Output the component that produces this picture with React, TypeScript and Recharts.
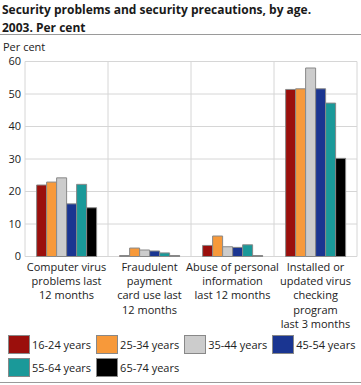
import React from 'react';
import { BarChart, Bar, XAxis, YAxis, CartesianGrid } from 'recharts';

const categories = [
  'Computer virus|problems last|12 months',
  'Fraudulent|payment|card use last|12 months',
  'Abuse of personal|information|last 12 months',
  'Installed or|updated virus|checking|program|last 3 months',
];
const ageGroups = ['16-24 years', '25-34 years', '35-44 years', '45-54 years', '55-64 years', '65-74 years'];
const s1624 = [22.0, 0, 3.4, 51.4];
const s2534 = [22.9, 2.6, 6.3, 51.6];
const s3544 = [24.2, 2.0, 3.0, 58.0];
const s4554 = [16.2, 1.7, 2.8, 51.6];
const s5564 = [22.2, 1.1, 3.6, 47.2];
const s6574 = [15.0, 0, 0, 30.2];
const seriesValues = [s1624, s2534, s3544, s4554, s5564, s6574];
const colors = ['#9b0f0c', '#f7993a', '#cccccc', '#1a3591', '#1a9999', '#000000'];
const yTicks = [0, 10, 20, 30, 40, 50, 60];

const keys = ageGroups.map((_, i) => 's' + i);
const data = categories.map((c, ci) => {
  const row: Record<string, any> = { category: c };
  seriesValues.forEach((s, si) => {
    row[keys[si]] = s[ci];
  });
  return row;
});

const FONT = '"Open Sans", sans-serif';

const XTick = (props: any) => {
  const { x, y, payload } = props;
  const lines = String(payload.value).split('|');
  return (
    <text x={x} y={y} textAnchor="middle" fontSize={11} fill="#222" fontFamily={FONT}>
      {lines.map((l, i) => (
        <tspan key={i} x={x} dy={i === 0 ? 14.5 : 14.2}>
          {l}
        </tspan>
      ))}
    </text>
  );
};

const LegendItem = ({ label, color }: { label: string; color: string }) => (
  <div style={{ display: 'flex', alignItems: 'center', marginRight: 5 }}>
    <div
      style={{
        width: 20,
        height: 17,
        background: color,
        border: '1px solid #888',
      }}
    />
    <span style={{ marginLeft: 2, fontSize: 11, color: '#222', lineHeight: '19px' }}>{label}</span>
  </div>
);

export default function App() {
  return (
    <div
      style={{
        position: 'absolute',
        left: 0,
        top: 0,
        width: 361,
        height: 385,
        fontFamily: FONT,
        background: '#fff',
        overflow: 'hidden',
      }}
    >
      <div
        style={{
          position: 'absolute',
          left: 2,
          top: 1,
          fontSize: 12,
          fontWeight: 'bold',
          lineHeight: '18px',
          color: '#1a1a1a',
          whiteSpace: 'nowrap',
        }}
      >
        Security problems and security precautions, by age.
        <br />
        2003. Per cent
      </div>
      <div style={{ position: 'absolute', left: 0, top: 34, width: 361, height: 1, background: '#9a9a9a' }} />
      <div
        style={{
          position: 'absolute',
          left: 3,
          top: 40,
          fontSize: 11,
          lineHeight: '13px',
          color: '#222',
        }}
      >
        Per cent
      </div>
      <div style={{ position: 'absolute', left: 0, top: 0 }}>
        <BarChart
          width={361}
          height={385}
          data={data}
          margin={{ top: 61.5, right: 4, bottom: 48.5, left: 0 }}
          barCategoryGap="14%"
          barGap={0}
        >
          <CartesianGrid
            stroke="#d6d6d6"
            horizontalValues={yTicks}
            verticalCoordinatesGenerator={(p: any) => {
              const o = p.offset;
              return [0, 1, 2, 3, 4].map((i) => o.left + (i * o.width) / 4);
            }}
          />
          <XAxis
            dataKey="category"
            height={80}
            tickLine={false}
            axisLine={false}
            tickSize={0}
            tickMargin={0}
            interval={0}
            tick={<XTick />}
          />
          <YAxis
            width={25}
            domain={[0, 60]}
            ticks={yTicks}
            tickLine={false}
            axisLine={false}
            tickMargin={4}
            tickSize={0}
            tick={{ fontSize: 11, fill: '#222', fontFamily: FONT }}
            interval={0}
          />
          {keys.map((k, i) => (
            <Bar
              key={k}
              dataKey={k}
              name={ageGroups[i]}
              fill={colors[i]}
              stroke="#888"
              strokeWidth={1}
              minPointSize={1}
              isAnimationActive={false}
            />
          ))}
        </BarChart>
      </div>
      <div style={{ position: 'absolute', left: 8, top: 335, display: 'flex' }}>
        {ageGroups.slice(0, 4).map((g, i) => (
          <LegendItem key={g} label={g} color={colors[i]} />
        ))}
      </div>
      <div style={{ position: 'absolute', left: 8, top: 358, display: 'flex' }}>
        {ageGroups.slice(4).map((g, i) => (
          <LegendItem key={g} label={g} color={colors[i + 4]} />
        ))}
      </div>
      <div style={{ position: 'absolute', left: 0, top: 382, width: 361, height: 1, background: '#9a9a9a' }} />
    </div>
  );
}
